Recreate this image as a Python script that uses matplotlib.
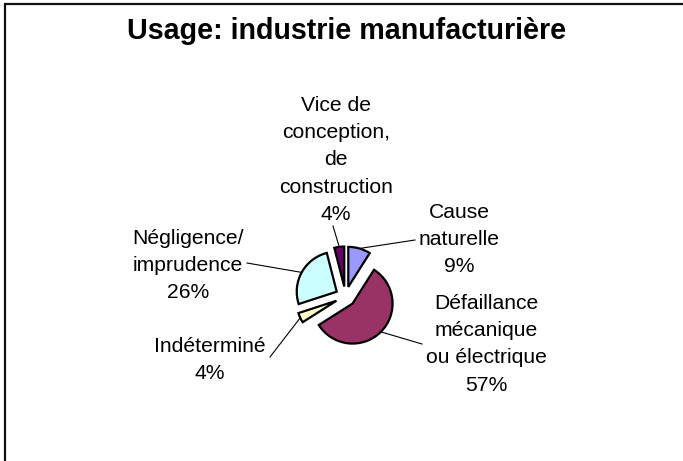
import numpy as np
import matplotlib
matplotlib.use("Agg")
import matplotlib.pyplot as plt

# ---- data ----
categories = ["Cause naturelle", "Défaillance mécanique ou électrique", "Indéterminé",
              "Négligence/ imprudence", "Vice de conception, de construction"]
values = [9, 57, 4, 26, 4]
colors = ["#9999FF", "#993366", "#FFFFCC", "#CCFFFF", "#660066"]
label_lines = [
    ["Cause", "naturelle", "9%"],
    ["Défaillance", "mécanique", "ou électrique", "57%"],
    ["Indéterminé", "4%"],
    ["Négligence/", "imprudence", "26%"],
    ["Vice de", "conception,", "de", "construction", "4%"],
]
title = "Usage: industrie manufacturière"

W, H = 683, 461
fig = plt.figure(figsize=(W / 100, H / 100), dpi=100)
ax = fig.add_axes([0, 0, 1, 1])

def Y(y):
    return H - y

FONT = "Liberation Sans"

# pie (radius and explode distance in pixel units of this axes)
cx, cy, r = 345.5, 296.5, 40
d = 10
wedges, _ = ax.pie(values, colors=colors, startangle=90, counterclock=False,
                   explode=[d] * len(values), radius=r, center=(cx, Y(cy)),
                   wedgeprops=dict(edgecolor="black", linewidth=1.6))
ax.set_xlim(0, W)
ax.set_ylim(0, H)
ax.set_aspect("equal")
ax.axis("off")

# frame
ax.plot([5, 5, W + 5], [Y(H + 5), Y(4.5), Y(4.5)], color="#111111", lw=1.6,
        solid_joinstyle="miter", clip_on=False)

# title
ax.text(347, Y(39), title, ha="center", va="baseline", fontsize=20.6,
        fontweight="bold", family=FONT)

# labels (positions are layout, not data)
label_pos = [(459, 218), (486, 309), (210, 352), (188, 244), (336, 111)]
line_step = 27.2
leader_end = [(415, 240), (422, 344), (270, 357), (247, 263), (333, 226)]

total = sum(values)
cum = 0
for i, v in enumerate(values):
    mid = (cum + v / 2) / total * 2 * np.pi  # clockwise from top
    cum += v
    ax_x = cx + (d + r) * np.sin(mid)
    ax_y = cy - (d + r) * np.cos(mid)
    ex, ey = leader_end[i]
    ax.plot([ax_x, ex], [Y(ax_y), Y(ey)], color="black", lw=0.8)
    lx, ly = label_pos[i]
    for k, line in enumerate(label_lines[i]):
        ax.text(lx, Y(ly + k * line_step), line, ha="center", va="baseline",
                fontsize=15.2, family=FONT, color="black")

fig.savefig("out.png", dpi=100)
